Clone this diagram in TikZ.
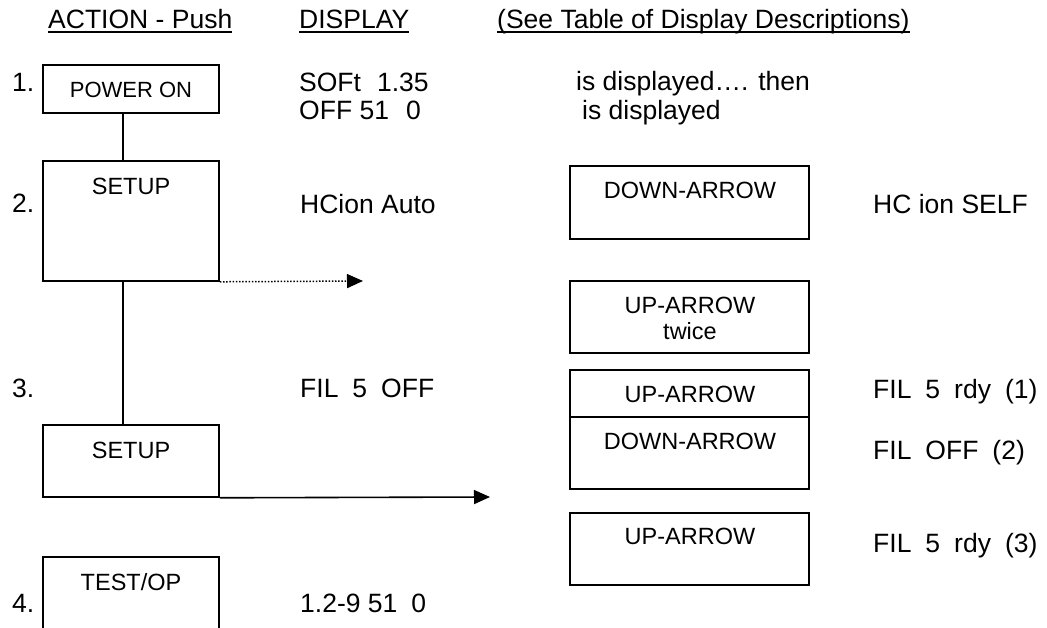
\documentclass[tikz,border=0pt]{standalone}
\usepackage{fontspec}
\setmainfont{Liberation Sans}
\usetikzlibrary{arrows.meta}
\begin{document}
\begin{tikzpicture}[x=1pt,y=-1pt,
  box/.style={draw,line width=1.6pt,inner sep=0,minimum width=176pt},
  rbox/.style={draw,line width=1.6pt,inner sep=0,minimum width=239pt},
  lbl/.style={inner sep=0,anchor=base,font=\fontsize{23.5}{26}\selectfont},
  txt/.style={inner sep=0,anchor=base west,font=\fontsize{26.5}{30}\selectfont},
  conn/.style={line width=1.6pt},
  uline/.style={line width=1.5pt},
  arr/.style={line width=1.6pt,-{Triangle[length=16pt,width=14pt]}},
  darr/.style={line width=1.5pt,dash pattern=on 1.5pt off 1.7pt,-{Triangle[length=16pt,width=14pt]}},
]
\clip (0,0) rectangle (1047,628);
\useasboundingbox (0,0) rectangle (1047,628);

% headers
\node[txt] (h1) at (48,29) {ACTION - Push};
\node[txt] (h2) at (299,29) {DISPLAY};
\node[txt] (h3) at (497,29) {(See Table of Display Descriptions)};
\foreach \h in {h1,h2,h3}
  \draw[uline] ([yshift=-3pt]\h.base west) -- ([yshift=-3pt]\h.base east);

% step numbers
\node[txt] (n1) at (12,92) {1.};
\node[txt] (n2) at (12,213) {2.};
\node[txt] (n3) at (12,397) {3.};
\node[txt] (n4) at (12,612) {4.};

% left action boxes
\node[box,minimum height=48pt] (pwr) at (131,89) {};
\node[lbl,font=\fontsize{22}{26}\selectfont] (pwrt) at (131,98) {POWER ON};
\node[box,minimum height=120pt] (setA) at (131,221) {};
\node[lbl] (setAt) at (131,194.4) {SETUP};
\node[box,minimum height=72pt] (setB) at (131,461) {};
\node[lbl] (setBt) at (131,458.4) {SETUP};
\node[box,minimum height=120pt] (test) at (131,617) {};
\node[lbl] (testt) at (131,590.4) {TEST/OP};

% connectors
\coordinate (vx) at (123,0);
\draw[conn] (pwr.south -| vx) -- (setA.north -| vx);
\draw[conn] (setA.south -| vx) -- (setB.north -| vx);
\coordinate (dotEnd) at (363,281);
\draw[darr] (setA.south east) -- (dotEnd);
\coordinate (solEnd) at (490,497);
\draw[arr] (setB.south east) -- (solEnd);

% display texts
\node[txt] (d1a) at (299,92) {SOFt\hspace{16pt}1.35};
\node[txt] (d1b) at (299,120) {OFF 51\hspace{17pt}0};
\node[txt] (d1c) at (576,91) {is displayed…. then};
\node[txt] (d1d) at (582,120) {is displayed};
\node[txt] (d2) at (300,214) {HCion Auto};
\node[txt] (d3) at (300,397) {FIL\hspace{14pt}5\hspace{14pt}OFF};
\node[txt] (d4) at (300,612) {1.2-9 51\hspace{14pt}0};

% right boxes
\node[rbox,minimum height=73pt] (dn1) at (689.5,202.5) {};
\node[lbl] (dn1t) at (690,198.5) {DOWN-ARROW};
\node[rbox,minimum height=72pt] (uptw) at (689.5,317) {};
\node[lbl] (uptwt) at (690,313.4) {UP-ARROW};
\node[lbl] (uptwu) at (690,340) {twice};
\node[rbox,minimum height=47pt] (up1) at (689.5,393.5) {};
\node[lbl] (up1t) at (690,402.4) {UP-ARROW};
\node[rbox,minimum height=72pt] (dn2) at (689.5,453) {};
\node[lbl] (dn2t) at (690,449.4) {DOWN-ARROW};
\node[rbox,minimum height=72pt] (up3) at (689.5,549) {};
\node[lbl] (up3t) at (690,544.4) {UP-ARROW};

% right results
\node[txt] (r1) at (873,214) {HC ion SELF};
\node[txt] (r2) at (873,398) {FIL\hspace{14pt}5\hspace{14pt}rdy\hspace{14pt}(1)};
\node[txt] (r3) at (873,459) {FIL\hspace{14pt}OFF\hspace{14pt}(2)};
\node[txt] (r4) at (873,552) {FIL\hspace{14pt}5\hspace{14pt}rdy\hspace{14pt}(3)};
\end{tikzpicture}
\end{document}
